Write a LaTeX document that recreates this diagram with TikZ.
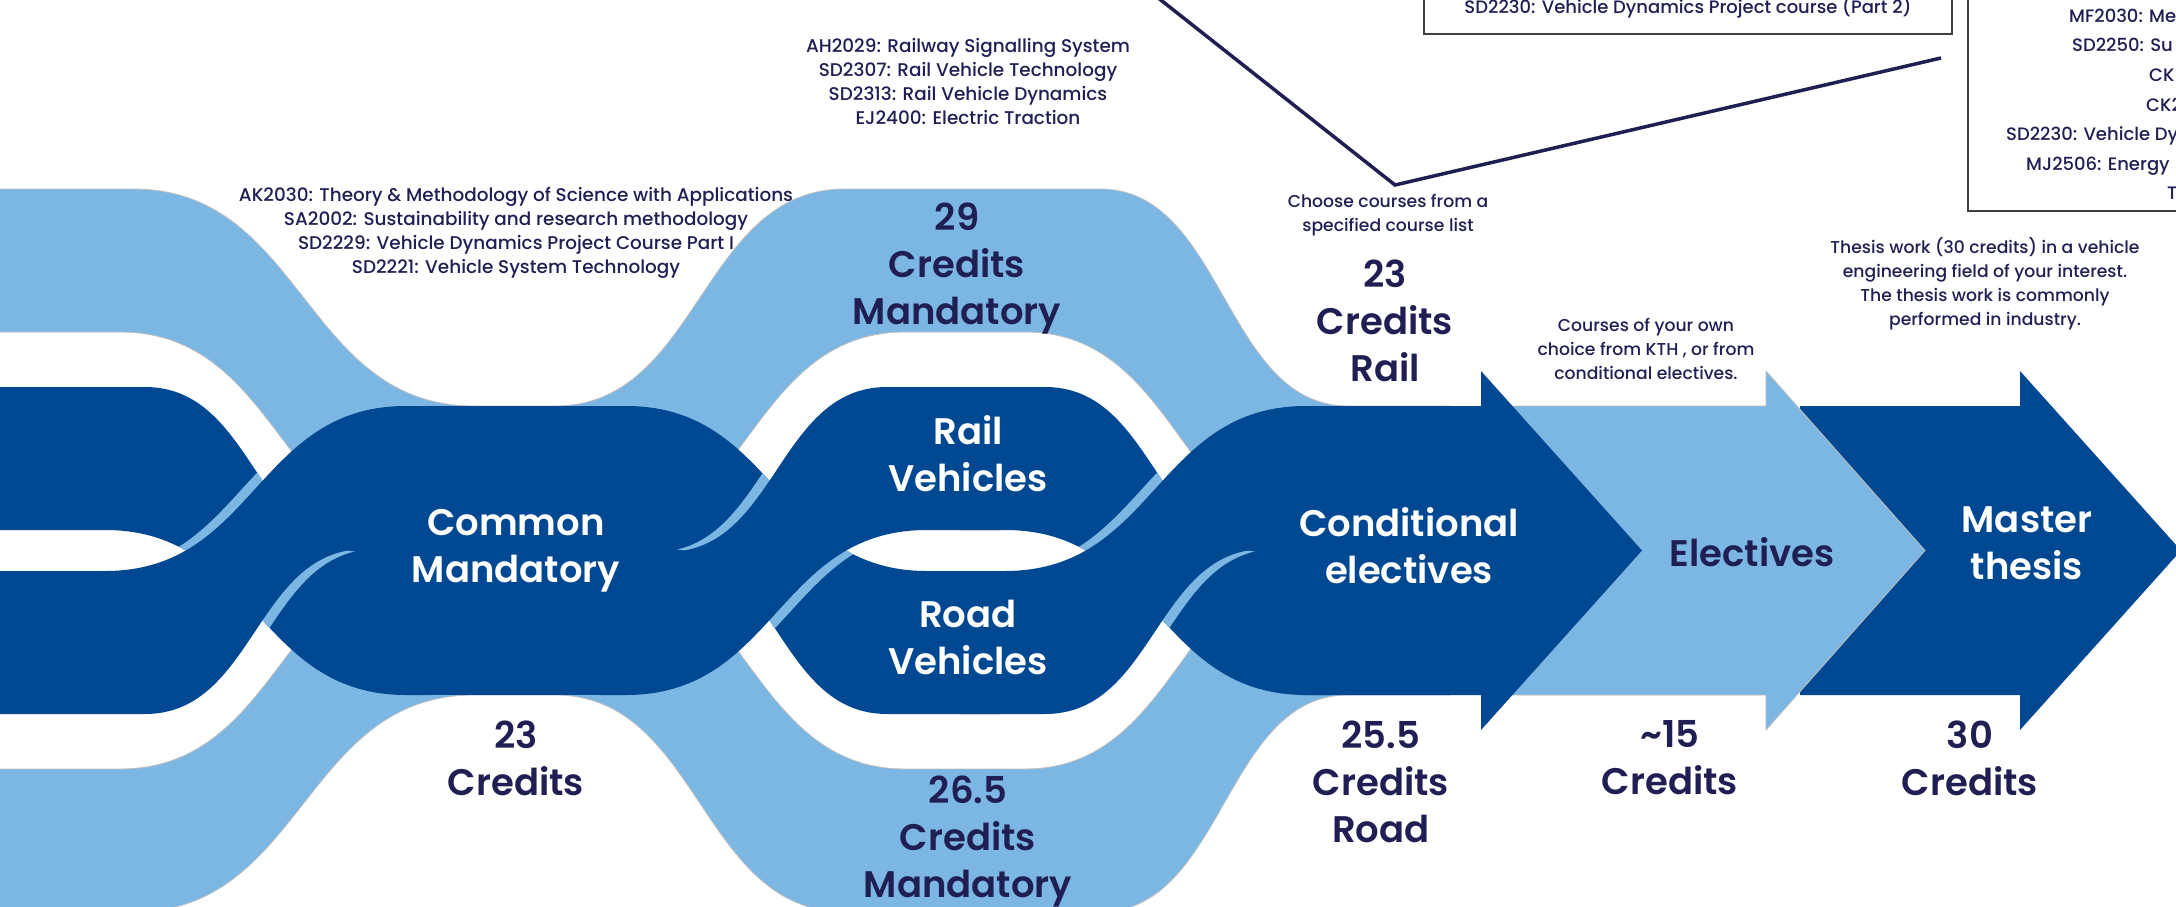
\documentclass[tikz,border=0pt]{standalone}
\usepackage{fontspec}
\setmainfont{Poppins}[BoldFont={Poppins SemiBold}]
\newfontfamily\medfont{Poppins Medium}
\definecolor{darkb}{RGB}{0,72,145}
\definecolor{lightb}{RGB}{124,183,227}
\definecolor{navy}{RGB}{32,31,84}
\tikzset{
  sto/.style n args={4}{insert path={.. controls ({(#1+#2)/2},#3) and ({(#1+#2)/2},#4) .. (#2,#4)}},
  lightband/.style={fill=lightb, draw=gray!50, line width=0.8pt},
  darkband/.style={fill=darkb},
  sliver/.style={fill=lightb},
  bigtxt/.style={font=\fontsize{37}{47}\selectfont\bfseries, align=center, inner sep=0pt},
  onwhite/.style={bigtxt, text=navy},
  ondark/.style={bigtxt, text=white},
  course/.style={font=\medfont\fontsize{18.4}{24}\selectfont, align=center, inner sep=0pt, text=navy},
  note/.style={font=\medfont\fontsize{17.2}{24}\selectfont, align=center, inner sep=0pt, text=navy},
  boxtxt/.style={font=\medfont\fontsize{18}{24}\selectfont, inner sep=0pt, text=navy, anchor=base west},
  leadline/.style={draw=navy, line width=3.5pt},
  boxframe/.style={draw=black!75, line width=1.5pt},
}
\begin{document}
\begin{tikzpicture}[x=1pt,y=-1pt]
\useasboundingbox (0,0) rectangle (2176,907);
\fill[white] (0,0) rectangle (2176,907);
% light bands
\path[lightband] (-10,189) -- (133,189) [sto={133}{474}{189}{406}] -- (520,406) -- (520,549) -- (447,549) [sto={447}{120}{549}{332}] -- (-10,332) -- cycle;
\path[lightband] (-10,912) -- (133,912) [sto={133}{474}{912}{695}] -- (520,695) -- (520,552) -- (447,552) [sto={447}{120}{552}{769}] -- (-10,769) -- cycle;
\path[lightband] (520,406) -- (555,406) [sto={555}{845}{406}{189}] -- (1100,189) [sto={1100}{1348}{189}{406}] -- (1450,406) -- (1450,549) -- (1340,549) [sto={1340}{1025}{549}{332}] -- (905,332) [sto={905}{585}{332}{549}] -- (520,549) -- cycle;
\path[lightband] (520,552) -- (585,552) [sto={585}{905}{552}{769}] -- (1025,769) [sto={1025}{1340}{769}{552}] -- (1450,552) -- (1450,695) -- (1348,695) [sto={1348}{1100}{695}{912}] -- (845,912) [sto={845}{555}{912}{695}] -- (520,695) -- cycle;
% master and electives arrows
\path[darkband] (1800,406) -- (2020,406) -- (2020,371) -- (2181,550.5) -- (2020,730) -- (2020,695) -- (1800,695) -- cycle;
\path[lightband] (1500,406) -- (1766,406) -- (1766,371) -- (1925,550.5) -- (1766,730) -- (1766,695) -- (1500,695) -- cycle;
% falling dark ribbons
\path[darkband] (-10,387) -- (145,387) [sto={145}{365}{387}{552}] -- (430,552) -- (430,695) -- (406,695) [sto={406}{105}{695}{530}] -- (-10,530) -- cycle;
\path[darkband] (600,406) -- (626,406) [sto={626}{927}{406}{571}] -- (1000,571) -- (1000,714) -- (887,714) [sto={887}{667}{714}{549}] -- (600,549) -- cycle;
\path[darkband] (960,387) -- (1045,387) [sto={1045}{1265}{387}{552}] -- (1330,552) -- (1330,695) -- (1306,695) [sto={1306}{1005}{695}{530}] -- (960,530) -- cycle;
% block and patches
\path[darkband] (406,406) rectangle (626,695);
\path[darkband] (330,540) rectangle (700,562);
\path[darkband] (1230,540) rectangle (1320,562);
% slivers
\begin{scope}
\clip (-10,387) -- (145,387) [sto={145}{365}{387}{552}] -- (430,552) -- (430,695) -- (406,695) [sto={406}{105}{695}{530}] -- (-10,530) -- cycle;
\path[sliver] (-10,571) -- (92,571) [sto={92}{393}{571}{406}] -- (640,406) -- (640,549) -- (377,549) [sto={377}{157}{549}{714}] -- (-10,714) -- cycle;
\end{scope}
\begin{scope}
\clip (600,406) -- (626,406) [sto={626}{927}{406}{571}] -- (1000,571) -- (1000,714) -- (887,714) [sto={887}{667}{714}{549}] -- (600,549) -- cycle;
\path[sliver] (600,552) -- (655,552) [sto={655}{875}{552}{387}] -- (1000,387) -- (1000,530) -- (940,530) [sto={940}{639}{530}{695}] -- (600,695) -- cycle;
\end{scope}
\begin{scope}
\clip (960,387) -- (1045,387) [sto={1045}{1265}{387}{552}] -- (1330,552) -- (1330,695) -- (1306,695) [sto={1306}{1005}{695}{530}] -- (960,530) -- cycle;
\path[sliver] (960,571) -- (992,571) [sto={992}{1293}{571}{406}] -- (1340,406) -- (1340,549) -- (1277,549) [sto={1277}{1057}{549}{714}] -- (960,714) -- cycle;
\end{scope}
% rising dark ribbons
\path[darkband] (-10,571) -- (105,571) [sto={105}{406}{571}{406}] -- (430,406) -- (430,549) -- (365,549) [sto={365}{145}{549}{714}] -- (-10,714) -- cycle;
\path[darkband] (600,552) -- (667,552) [sto={667}{887}{552}{387}] -- (1000,387) -- (1000,530) -- (927,530) [sto={927}{626}{530}{695}] -- (600,695) -- cycle;
\path[darkband] (960,571) -- (1005,571) [sto={1005}{1306}{571}{406}] -- (1330,406) -- (1330,549) -- (1265,549) [sto={1265}{1045}{549}{714}] -- (960,714) -- cycle;
% conditional electives arrow
\path[darkband] (1300,406) -- (1481,406) -- (1481,371) -- (1642,550.5) -- (1481,730) -- (1481,695) -- (1300,695) -- cycle;
% texts
\node[course] (crail) at (968,81) {AH2029: Railway Signalling System\\SD2307: Rail Vehicle Technology\\SD2313: Rail Vehicle Dynamics\\EJ2400: Electric Traction};
\node[course] (ccommon) at (516,233) {AK2030: Theory \& Methodology of Science with Applications\\SA2002: Sustainability and research methodology\\SD2229: Vehicle Dynamics Project Course Part I\\SD2221: Vehicle System Technology};
\node[onwhite] (t29) at (957,268.5) {29\\Credits\\Mandatory};
\node[ondark] (trail) at (968,454) {Rail\\Vehicles};
\node[ondark] (troad) at (968,637.5) {Road\\Vehicles};
\node[onwhite] (t265) at (968,842) {26.5\\Credits\\Mandatory};
\node[ondark] (tcommon) at (516,551) {Common\\Mandatory};
\node[onwhite] (t23) at (516,758) {23\\Credits};
\node[note] (tchoose) at (1388,215) {Choose courses from a\\specified course list};
\node[onwhite] (t23r) at (1385,321) {23\\Credits\\Rail};
\node[ondark] (tcond) at (1409,546) {Conditional\\electives};
\node[onwhite] (t255) at (1381,782) {25.5\\Credits\\Road};
\node[note] (town) at (1646,349) {Courses of your own\\choice from KTH , or from\\conditional electives.};
\node[onwhite] (telec) at (1752,552) {Electives};
\node[onwhite] (t15) at (1670,758) {\textasciitilde15\\Credits};
\node[note] (tthesis) at (1985,283.5) {Thesis work (30 credits) in a vehicle\\engineering field of your interest.\\The thesis work is commonly\\performed in industry.};
\node[ondark] (tmaster) at (2027,543.5) {Master\\thesis};
\node[onwhite] (t30) at (1970,758) {30\\Credits};
% top box and right box
\draw[boxframe] (1424,-10) rectangle (1952,34);
\node[boxtxt, anchor=base] (tbox) at (1688,13.5) {SD2230: Vehicle Dynamics Project course (Part 2)};
\draw[boxframe] (1968,-10) rectangle (2200,211);
\node[boxtxt] (r1) at (2069,22.5) {MF2030: Me};
\node[boxtxt] (r2) at (2072,52) {SD2250: Su};
\node[boxtxt] (r3) at (2149,81.5) {CK};
\node[boxtxt] (r4) at (2146,111) {CK2};
\node[boxtxt] (r5) at (2006,140.5) {SD2230: Vehicle Dy};
\node[boxtxt] (r6) at (2026,170) {MJ2506: Energy};
\node[boxtxt] (r7) at (2167,199.5) {T};
% lead line
\coordinate (p0) at (1157,-3);
\coordinate (p1) at (1395,185);
\coordinate (p2) at (1941,58);
\draw[leadline] (p0) -- (p1) -- (p2);
\end{tikzpicture}
\end{document}
